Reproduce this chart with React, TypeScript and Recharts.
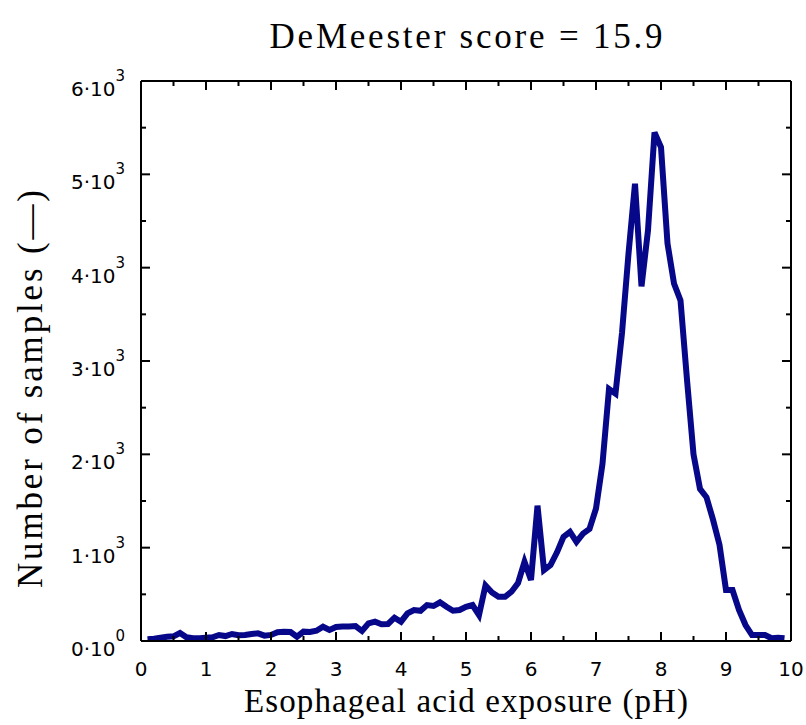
import { LineChart, Line, XAxis, YAxis, Label } from "recharts";

const phValues = [
  0.1, 0.2, 0.3, 0.4, 0.5, 0.6, 0.7, 0.8, 0.9, 1.0,
  1.1, 1.2, 1.3, 1.4, 1.5, 1.6, 1.7, 1.8, 1.9, 2.0,
  2.1, 2.2, 2.3, 2.4, 2.5, 2.6, 2.7, 2.8, 2.9, 3.0,
  3.1, 3.2, 3.3, 3.4, 3.5, 3.6, 3.7, 3.8, 3.9, 4.0,
  4.1, 4.2, 4.3, 4.4, 4.5, 4.6, 4.7, 4.8, 4.9, 5.0,
  5.1, 5.2, 5.3, 5.4, 5.5, 5.6, 5.7, 5.8, 5.9, 6.0,
  6.1, 6.2, 6.3, 6.4, 6.5, 6.6, 6.7, 6.8, 6.9, 7.0,
  7.1, 7.2, 7.3, 7.4, 7.5, 7.6, 7.7, 7.8, 7.9, 8.0,
  8.1, 8.2, 8.3, 8.4, 8.5, 8.6, 8.7, 8.8, 8.9, 9.0,
  9.1, 9.2, 9.3, 9.4, 9.5, 9.6, 9.7, 9.8, 9.9,
];

const sampleCounts = [
  20, 25, 35, 45, 50, 85, 40, 30, 30, 35,
  40, 64, 53, 75, 61, 65, 75, 82, 57, 65,
  95, 100, 96, 46, 100, 96, 110, 153, 118, 150,
  155, 155, 160, 107, 189, 207, 180, 182, 250, 207,
  296, 332, 324, 385, 375, 414, 367, 324, 332, 367,
  385, 278, 595, 520, 474, 474, 528, 620, 849, 653,
  1450, 760, 813, 950, 1116, 1170, 1063, 1150, 1200, 1420,
  1900, 2700, 2650, 3300, 4150, 4900, 3800, 4400, 5450, 5290,
  4260, 3830, 3650, 2800, 2000, 1630, 1540, 1300, 1030, 546,
  546, 332, 171, 64, 64, 64, 29, 35, 29,
];

const xTicks = [0, 0.5, 1, 1.5, 2, 2.5, 3, 3.5, 4, 4.5, 5, 5.5, 6, 6.5, 7, 7.5, 8, 8.5, 9, 9.5, 10];
const yTicks = [0, 500, 1000, 1500, 2000, 2500, 3000, 3500, 4000, 4500, 5000, 5500, 6000];

const data = phValues.map((ph, i) => ({ ph, count: sampleCounts[i] }));

const SERIF = "'Liberation Serif', 'DejaVu Serif', serif";
const SANS = "'DejaVu Sans', sans-serif";
const MAJOR = 9;
const MINOR = 5;

// ticks point into the plot; labels only on bottom / left
const makeXTick = (side: "bottom" | "top") => (props: any) => {
  const { x, y, payload } = props;
  const major = Number.isInteger(payload.value);
  const len = major ? MAJOR : MINOR;
  const dir = side === "bottom" ? -1 : 1;
  return (
    <g>
      <line x1={x} x2={x} y1={y} y2={y + dir * len} stroke="#000" strokeWidth={2} />
      {side === "bottom" && major && (
        <text x={x} y={y + 35} textAnchor="middle" fontSize={20} fontFamily={SANS} fill="#000">
          {payload.value}
        </text>
      )}
    </g>
  );
};

const makeYTick = (side: "left" | "right") => (props: any) => {
  const { x, y, payload } = props;
  const v = payload.value as number;
  const major = v % 1000 === 0;
  const len = major ? MAJOR : MINOR;
  const dir = side === "left" ? 1 : -1;
  const mant = v / 1000;
  return (
    <g>
      <line x1={x} x2={x + dir * len} y1={y} y2={y} stroke="#000" strokeWidth={2} />
      {side === "left" && major && (
        <text x={x - 16} y={y + 15} textAnchor="end" fontSize={20} fontFamily={SANS} fill="#000">
          {mant}·10
          <tspan dy={-15} fontSize={15}>
            {v === 0 ? 0 : 3}
          </tspan>
        </text>
      )}
    </g>
  );
};

const XTitle = (props: any) => {
  const { x, y, width } = props.viewBox;
  return (
    <text
      x={x + width / 2}
      y={y + 71}
      textAnchor="middle"
      fontSize={33}
      textLength={444}
      lengthAdjust="spacing"
      fontFamily={SERIF}
      fill="#000"
    >
      Esophageal acid exposure (pH)
    </text>
  );
};

const YTitle = (props: any) => {
  const { x, y, height } = props.viewBox;
  const cx = x + 30;
  const cy = y + height / 2 + 28;
  return (
    <text
      x={cx}
      y={cy}
      transform={`rotate(-90, ${cx}, ${cy})`}
      textAnchor="middle"
      dominantBaseline="central"
      fontSize={35}
      textLength={398}
      lengthAdjust="spacing"
      fontFamily={SERIF}
      fill="#000"
    >
      Number of samples (—)
    </text>
  );
};

const Title = (props: any) => {
  const { x, y, width } = props.viewBox;
  return (
    <text
      x={x + width / 2}
      y={y - 32}
      textAnchor="middle"
      fontSize={35}
      textLength={393}
      lengthAdjust="spacing"
      fontFamily={SERIF}
      fill="#000"
    >
      DeMeester score = 15.9
    </text>
  );
};

export default function App() {
  return (
    <div style={{ position: "absolute", left: 0, top: 0, background: "#fff" }}>
      <LineChart width={806} height={725} data={data} margin={{ top: 80, right: 14, left: 0, bottom: 0 }}>
        <XAxis
          xAxisId="b"
          dataKey="ph"
          type="number"
          domain={[0, 10]}
          ticks={xTicks}
          interval={0}
          height={84}
          tickSize={0}
          tickMargin={0}
          tickLine={false}
          axisLine={{ stroke: "#000", strokeWidth: 2 }}
          tick={makeXTick("bottom")}
          allowDataOverflow
        >
          <Label content={XTitle} />
        </XAxis>
        <XAxis
          xAxisId="t"
          orientation="top"
          dataKey="ph"
          type="number"
          domain={[0, 10]}
          ticks={xTicks}
          interval={0}
          height={1}
          tickSize={0}
          tickMargin={0}
          tickLine={false}
          axisLine={{ stroke: "#000", strokeWidth: 2 }}
          tick={makeXTick("top")}
          allowDataOverflow
        >
          <Label content={Title} />
        </XAxis>
        <YAxis
          yAxisId="l"
          type="number"
          domain={[0, 6000]}
          ticks={yTicks}
          interval={0}
          width={141}
          tickSize={0}
          tickMargin={0}
          tickLine={false}
          axisLine={{ stroke: "#000", strokeWidth: 2 }}
          tick={makeYTick("left")}
          allowDataOverflow
        >
          <Label content={YTitle} />
        </YAxis>
        <YAxis
          yAxisId="r"
          orientation="right"
          type="number"
          domain={[0, 6000]}
          ticks={yTicks}
          interval={0}
          width={1}
          tickSize={0}
          tickMargin={0}
          tickLine={false}
          axisLine={{ stroke: "#000", strokeWidth: 2 }}
          tick={makeYTick("right")}
          allowDataOverflow
        />
        <Line
          xAxisId="b"
          yAxisId="l"
          type="linear"
          dataKey="count"
          stroke="#07078a"
          strokeWidth={6}
          strokeLinejoin="miter"
          dot={false}
          activeDot={false}
          isAnimationActive={false}
        />
      </LineChart>
    </div>
  );
}
